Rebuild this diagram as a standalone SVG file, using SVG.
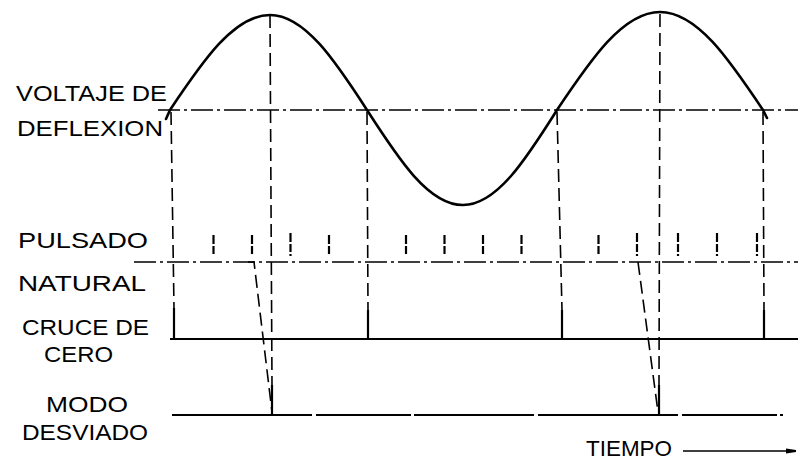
<svg xmlns="http://www.w3.org/2000/svg" width="798" height="469" viewBox="0 0 798 469">
<style>
  .lbl { font-family: "Liberation Sans", "DejaVu Sans", sans-serif; font-size: 22px; fill: #000; }
  .wave { fill: none; stroke: #000; stroke-width: 2.6; stroke-linecap: round; }
  .axis { fill: none; stroke: #000; stroke-width: 1.6; stroke-dasharray: 22 4 3 4; }
  .solid { fill: none; stroke: #000; stroke-width: 2.2; }
  .vdash { fill: none; stroke: #000; stroke-width: 1.6; stroke-dasharray: 13 6; }
  .pulse { fill: none; stroke: #000; stroke-width: 2.2; }
  .tick { fill: none; stroke: #000; stroke-width: 2.2; stroke-dasharray: 9 2 8 2; }
</style>
<defs>
  <marker id="arr" markerWidth="12" markerHeight="8" refX="10" refY="4" orient="auto" markerUnits="userSpaceOnUse">
    <path d="M0,1.5 L10,3 L10,5 L0,6.5 Z" fill="#000"/>
  </marker>
</defs>
<rect width="798" height="469" fill="#fff"/>

<g id="labels">
  <text class="lbl" x="16" y="101" textLength="151" lengthAdjust="spacingAndGlyphs">VOLTAJE DE</text>
  <text class="lbl" x="17" y="136" textLength="146" lengthAdjust="spacingAndGlyphs">DEFLEXION</text>
  <text class="lbl" x="18" y="248" font-size="21" textLength="130" lengthAdjust="spacingAndGlyphs">PULSADO</text>
  <text class="lbl" x="18" y="291" textLength="128" lengthAdjust="spacingAndGlyphs">NATURAL</text>
  <text class="lbl" x="22" y="335" textLength="127" lengthAdjust="spacingAndGlyphs">CRUCE DE</text>
  <text class="lbl" x="44" y="362" textLength="69" lengthAdjust="spacingAndGlyphs">CERO</text>
  <text class="lbl" x="46" y="412" textLength="82" lengthAdjust="spacingAndGlyphs">MODO</text>
  <text class="lbl" x="22" y="440" textLength="126" lengthAdjust="spacingAndGlyphs">DESVIADO</text>
  <text class="lbl" x="586" y="456" font-size="18" textLength="86" lengthAdjust="spacingAndGlyphs">TIEMPO</text>
</g>

<g id="wave">
  <path class="wave" d="M166,119 L170,110 C202.6,61.3 234,15 270,15 C304.9,15 335.4,61.3 367,110 C398.3,158.7 428.4,205 463,205 C496.8,205 526.4,158.7 557,110 C590.6,59.8 622.9,12 660,12 C697.1,12 729.4,59.8 763,110 L767,118"/>
</g>

<g id="traces">
  <line id="axis-line" class="axis" x1="158" y1="110" x2="798" y2="110"/>
  <line id="natural-line" class="axis" x1="134" y1="262" x2="798" y2="262"/>
  <line id="cruce-line" class="solid" x1="170" y1="339" x2="798" y2="339"/>
  <line id="modo-line" class="solid" x1="172" y1="415" x2="783" y2="415" stroke-dasharray="140 4 95 3 120 4"/>
</g>

<g id="pulsado-ticks">
  <line class="tick" x1="213.5" y1="235" x2="213.5" y2="256"/>
  <line class="tick" x1="252" y1="235" x2="252" y2="256"/>
  <line class="tick" x1="290.5" y1="233" x2="290.5" y2="256"/>
  <line class="tick" x1="329" y1="235" x2="329" y2="256"/>
  <line class="tick" x1="406" y1="235" x2="406" y2="256"/>
  <line class="tick" x1="444.5" y1="235" x2="444.5" y2="256"/>
  <line class="tick" x1="483" y1="235" x2="483" y2="256"/>
  <line class="tick" x1="521.5" y1="235" x2="521.5" y2="256"/>
  <line class="tick" x1="598.5" y1="235" x2="598.5" y2="256"/>
  <line class="tick" x1="637" y1="233" x2="637" y2="256"/>
  <line class="tick" x1="678" y1="233" x2="678" y2="256"/>
  <line class="tick" x1="717" y1="233" x2="717" y2="256"/>
  <line class="tick" x1="757" y1="233" x2="757" y2="256"/>
</g>

<g id="connectors">
  <line class="vdash" x1="171" y1="112" x2="174" y2="308"/>
  <line class="pulse" x1="174" y1="308" x2="174" y2="339"/>
  <line class="vdash" x1="270" y1="15" x2="272" y2="385"/>
  <line class="pulse" x1="272" y1="385" x2="272" y2="415"/>
  <polyline class="vdash" points="248,262 254,262 272,412"/>
  <line class="vdash" x1="367" y1="112" x2="368" y2="310"/>
  <line class="pulse" x1="368" y1="310" x2="368" y2="339"/>
  <line class="vdash" x1="557" y1="112" x2="562" y2="310"/>
  <line class="pulse" x1="562" y1="310" x2="562" y2="339"/>
  <line class="vdash" x1="660" y1="14" x2="659" y2="385"/>
  <line class="pulse" x1="659" y1="385" x2="659" y2="415"/>
  <line class="vdash" x1="638" y1="262" x2="658" y2="412"/>
  <line class="vdash" x1="763" y1="112" x2="764" y2="310"/>
  <line class="pulse" x1="764" y1="310" x2="764" y2="339"/>
  <line x1="683" y1="451" x2="796" y2="451" stroke="#000" stroke-width="1.6" marker-end="url(#arr)"/>
</g>
</svg>
